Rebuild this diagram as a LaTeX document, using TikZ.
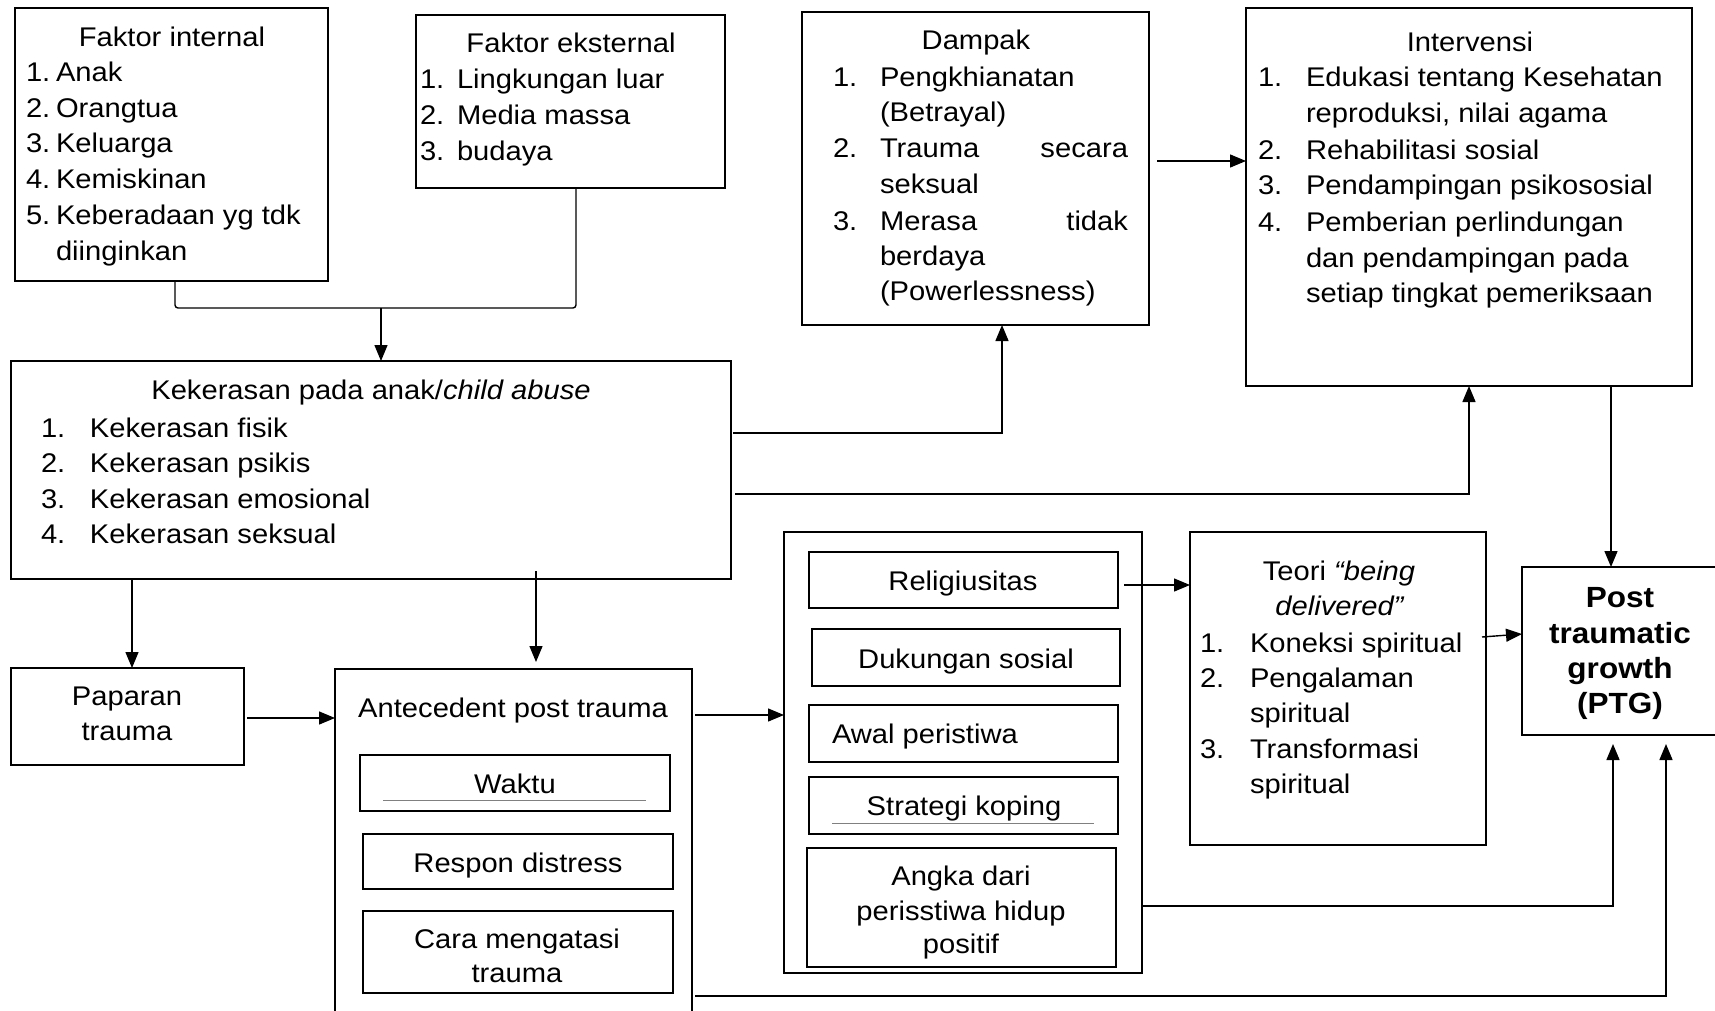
\documentclass[tikz,border=0pt]{standalone}
\usepackage{fontspec}
\setmainfont{Liberation Sans}[FakeStretch=1.08]
\usetikzlibrary{arrows.meta,fit}
\tikzset{
  box/.style={draw, line width=1.25pt, inner sep=0pt, outer sep=0pt},
  ibox/.style={draw, line width=1.1pt, inner sep=0pt, outer sep=0pt},
  area/.style={inner sep=0pt, outer sep=0pt},
  txt/.style={inner sep=0pt, outer sep=0pt, anchor=base west},
  ctxt/.style={inner sep=0pt, outer sep=0pt, anchor=base},
  conn/.style={line width=0.7pt},
  arr/.style={conn, -{Triangle[length=8pt,width=6.5pt]}},
  uline/.style={draw=gray, line width=0.5pt},
  ptgfont/.style={font=\fontsize{14.6}{18}\selectfont\bfseries}
}
\begin{document}
\begin{tikzpicture}[x=0.5pt,y=-0.5pt, every node/.append style={font=\fontsize{13.5}{18}\selectfont}]
\useasboundingbox (0,0) rectangle (1715,1011);
\fill[white] (0,0) rectangle (1715,1011);

% ---------- boxes ----------
\node[box, fit={(15,8) (328,281)}] (fi) {};
\node[box, fit={(416,15) (725,188)}] (fe) {};
\node[box, fit={(11,361) (731,579)}] (kek) {};
\node[box, fit={(802,12) (1149,325)}] (dam) {};
\node[box, fit={(1246,8) (1692,386)}] (int) {};
\node[box, fit={(11,668) (244,765)}] (pap) {};
\node[area, fit={(335,669) (692,1011)}] (ant) {};
\draw[line width=1.25pt] (ant.south west) -- (ant.north west) -- (ant.north east) -- (ant.south east);
\node[ibox, fit={(360,755) (670,811)}] (wak) {};
\node[ibox, fit={(363,834) (673,889)}] (res) {};
\node[ibox, fit={(363,911) (673,993)}] (cara) {};
\node[box, fit={(784,532) (1142,973)}] (mid) {};
\node[ibox, fit={(809,552) (1118,608)}] (rel) {};
\node[ibox, fit={(812,629) (1120,686)}] (duk) {};
\node[ibox, fit={(809,705) (1118,762)}] (awal) {};
\node[ibox, fit={(809,777) (1118,834)}] (stra) {};
\node[ibox, fit={(807,848) (1116,967)}] (angka) {};
\node[box, fit={(1190,532) (1486,845)}] (teori) {};
\node[area, fit={(1522,567) (1715,735)}] (ptg) {};
\draw[line width=1.25pt] (ptg.north east) -- (ptg.north west) -- (ptg.south west) -- (ptg.south east);

% ---------- Faktor internal ----------
\node[ctxt] (fit0) at (172,47) {Faktor internal};
\node[txt] (fin1) at (26,82) {1.};  \node[txt] (fit1) at (56,82) {Anak};
\node[txt] (fin2) at (26,118) {2.}; \node[txt] (fit2) at (56,118) {Orangtua};
\node[txt] (fin3) at (26,153) {3.}; \node[txt] (fit3) at (56,153) {Keluarga};
\node[txt] (fin4) at (26,189) {4.}; \node[txt] (fit4) at (56,189) {Kemiskinan};
\node[txt] (fin5) at (26,225) {5.}; \node[txt] (fit5) at (56,225) {Keberadaan yg tdk};
\node[txt] (fit6) at (56,260) {diinginkan};

% ---------- Faktor eksternal ----------
\node[ctxt] (fet0) at (571,53) {Faktor eksternal};
\node[txt] (fen1) at (420,89) {1.};  \node[txt] (fet1) at (457,89) {Lingkungan luar};
\node[txt] (fen2) at (420,125) {2.}; \node[txt] (fet2) at (457,125) {Media massa};
\node[txt] (fen3) at (420,161) {3.}; \node[txt] (fet3) at (457,161) {budaya};

% ---------- Dampak ----------
\node[ctxt] (dt0) at (976,50) {Dampak};
\node[txt] (dn1) at (833,87) {1.};  \node[txt] (dt1) at (880,87) {Pengkhianatan};
\node[txt] (dt2) at (880,122) {(Betrayal)};
\node[txt] (dn2) at (833,158) {2.}; \node[txt] (dt3) at (880,158) {\makebox[124pt][s]{Trauma secara}};
\node[txt] (dt4) at (880,193) {seksual};
\node[txt] (dn3) at (833,230) {3.}; \node[txt] (dt5) at (880,230) {\makebox[124pt][s]{Merasa tidak}};
\node[txt] (dt6) at (880,265) {berdaya};
\node[txt] (dt7) at (880,300) {(Powerlessness)};

% ---------- Intervensi ----------
\node[ctxt] (it0) at (1470,52) {Intervensi};
\node[txt] (in1) at (1258,87) {1.};  \node[txt] (it1) at (1306,87) {Edukasi tentang Kesehatan};
\node[txt] (it2) at (1306,123) {reproduksi, nilai agama};
\node[txt] (in2) at (1258,160) {2.}; \node[txt] (it3) at (1306,160) {Rehabilitasi sosial};
\node[txt] (in3) at (1258,195) {3.}; \node[txt] (it4) at (1306,195) {Pendampingan psikososial};
\node[txt] (in4) at (1258,232) {4.}; \node[txt] (it5) at (1306,232) {Pemberian perlindungan};
\node[txt] (it6) at (1306,267) {dan pendampingan pada};
\node[txt] (it7) at (1306,302) {setiap tingkat pemeriksaan};

% ---------- Kekerasan ----------
\node[ctxt] (kt0) at (371,399) {Kekerasan pada anak/\textit{child abuse}};
\node[txt] (kn1) at (41,437) {1.}; \node[txt] (kt1) at (90,437) {Kekerasan fisik};
\node[txt] (kn2) at (41,472) {2.}; \node[txt] (kt2) at (90,472) {Kekerasan psikis};
\node[txt] (kn3) at (41,508) {3.}; \node[txt] (kt3) at (90,508) {Kekerasan emosional};
\node[txt] (kn4) at (41,543) {4.}; \node[txt] (kt4) at (90,543) {Kekerasan seksual};

% ---------- Paparan / Antecedent ----------
\node[ctxt] (pt1) at (127,705) {Paparan};
\node[ctxt] (pt2) at (127,740) {trauma};
\node[ctxt] (at0) at (513,717) {Antecedent post trauma};
\node[ctxt] (wt) at (515,793) {Waktu};
\draw[uline] (383,800) -- (646,800);
\node[ctxt] (rt) at (518,872) {Respon distress};
\node[ctxt] (ct1) at (517,948) {Cara mengatasi};
\node[ctxt] (ct2) at (517,982) {trauma};

% ---------- middle ----------
\node[ctxt] (relt) at (963,590) {Religiusitas};
\node[ctxt] (dukt) at (966,668) {Dukungan sosial};
\node[txt] (awt) at (832,743) {Awal peristiwa};
\node[ctxt] (stt) at (964,815) {Strategi koping};
\draw[uline] (832,823) -- (1094,823);
\node[ctxt] (ag1) at (961,885) {Angka dari};
\node[ctxt] (ag2) at (961,920) {perisstiwa hidup};
\node[ctxt] (ag3) at (961,953) {positif};

% ---------- Teori ----------
\node[ctxt] (tt0) at (1339,580) {Teori \textit{“being}};
\node[ctxt] (tt1) at (1340,615) {\textit{delivered”}};
\node[txt] (tn1) at (1200,652) {1.}; \node[txt] (tt2) at (1250,652) {Koneksi spiritual};
\node[txt] (tn2) at (1200,687) {2.}; \node[txt] (tt3) at (1250,687) {Pengalaman};
\node[txt] (tt4) at (1250,722) {spiritual};
\node[txt] (tn3) at (1200,758) {3.}; \node[txt] (tt5) at (1250,758) {Transformasi};
\node[txt] (tt6) at (1250,793) {spiritual};

% ---------- PTG ----------
\node[ctxt, ptgfont] (pg1) at (1620,607) {Post};
\node[ctxt, ptgfont] (pg2) at (1620,643) {traumatic};
\node[ctxt, ptgfont] (pg3) at (1620,678) {growth};
\node[ctxt, ptgfont] (pg4) at (1620,713) {(PTG)};

% ---------- connectors ----------
\coordinate (bl) at (175,308);
\coordinate (br) at (576,308);
\coordinate (bm) at (381,308);
\draw[conn, rounded corners=1.5pt] (fi.south -| bl) -- (bl) -- (br) -- (fe.south -| br);
\draw[arr] (bm) -- (kek.north -| bm);

\coordinate (k1) at (1002,433);
\draw[arr, shorten <=1pt] (kek.east |- k1) -- (k1) -- (dam.south -| k1);
\coordinate (k2) at (1469,494);
\draw[arr, shorten <=2pt] (kek.east |- k2) -- (k2) -- (int.south -| k2);
\coordinate (k3) at (0,161);
\draw[arr, shorten <=4pt] (dam.east |- k3) -- (int.west |- k3);
\coordinate (k4) at (1611,386);
\draw[arr] (int.south -| k4) -- (ptg.north -| k4);

\coordinate (k5) at (132,0);
\draw[arr] (kek.south -| k5) -- (pap.north -| k5);
\coordinate (k6) at (536,571);
\draw[arr, shorten >=3.5pt] (k6) -- (ant.north -| k6);
\coordinate (k7) at (0,718);
\draw[arr, shorten <=1.5pt] (pap.east |- k7) -- (ant.west |- k7);
\coordinate (k8) at (0,715);
\draw[arr, shorten <=1.5pt] (ant.east |- k8) -- (mid.west |- k8);
\coordinate (k9) at (1666,996);
\draw[arr, shorten <=1.5pt, shorten >=4.5pt] (ant.east |- k9) -- (k9) -- (ptg.south -| k9);
\coordinate (k10) at (1613,906);
\draw[arr, shorten >=4.5pt] (mid.east |- k10) -- (k10) -- (ptg.south -| k10);
\coordinate (k11) at (0,585);
\draw[arr, shorten <=3pt] (rel.east |- k11) -- (teori.west |- k11);
\coordinate (k12s) at (1482,637);
\coordinate (k12e) at (0,634);
\draw[arr] (k12s) -- (ptg.west |- k12e);
\end{tikzpicture}
\end{document}
